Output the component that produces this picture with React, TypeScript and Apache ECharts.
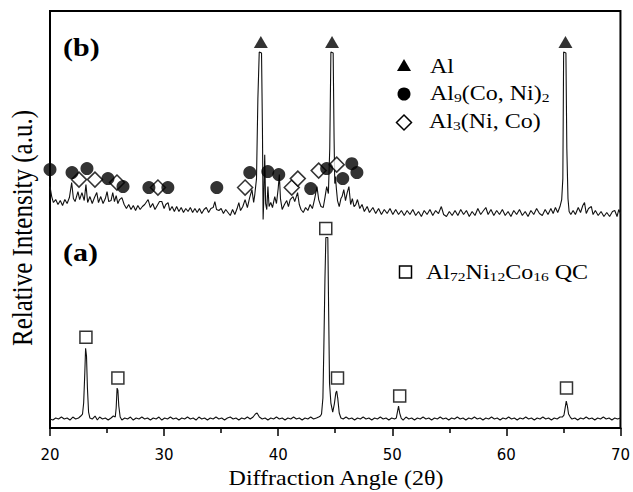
import React, { useEffect, useRef } from "react";
import * as echarts from "echarts";

// X range (2θ, degrees)
const X_MIN = 20;
const X_MAX = 70;
const X_INTERVAL = 10;
const Y_MAX = 418;

// (a) Al72Ni12Co16 QC pattern  [2θ, intensity a.u.]
const traceA: [number, number][] = [
  [20.0, 9], [20.25, 8], [20.5, 10], [20.75, 9], [21.0, 11], [21.25, 9], [21.5, 10], [21.75, 8], [22.0, 11], [22.25, 9],
  [22.5, 10], [22.7, 12], [22.85, 14], [22.95, 25], [23.05, 55], [23.12, 80], [23.2, 72], [23.28, 40], [23.38, 16], [23.5, 10],
  [23.7, 9], [23.95, 12], [24.15, 8], [24.35, 11], [24.6, 9], [24.85, 10], [25.1, 8], [25.35, 10], [25.55, 12], [25.72, 11],
  [25.8, 20], [25.88, 40], [25.95, 38], [26.03, 22], [26.15, 11], [26.3, 8], [26.55, 10], [26.8, 9], [27.05, 11], [27.3, 8],
  [27.55, 10], [27.8, 9], [28.05, 11], [28.3, 9], [28.55, 10], [28.8, 8], [29.05, 10], [29.3, 9], [29.55, 11], [29.8, 8],
  [30.05, 10], [30.3, 9], [30.55, 11], [30.8, 9], [31.05, 10], [31.3, 8], [31.55, 10], [31.8, 9], [32.05, 11], [32.3, 9],
  [32.55, 10], [32.8, 8], [33.05, 11], [33.3, 9], [33.55, 10], [33.8, 8], [34.05, 10], [34.3, 9], [34.55, 11], [34.8, 9],
  [35.05, 10], [35.3, 8], [35.55, 10], [35.8, 11], [36.05, 9], [36.3, 10], [36.55, 8], [36.8, 10], [37.05, 9], [37.3, 11],
  [37.55, 9], [37.8, 11], [38.0, 14], [38.15, 15], [38.35, 11], [38.6, 9], [38.85, 10], [39.1, 8], [39.35, 10], [39.6, 9],
  [39.85, 11], [40.1, 9], [40.35, 10], [40.6, 8], [40.85, 10], [41.1, 9], [41.35, 11], [41.6, 9], [41.85, 10], [42.1, 8],
  [42.35, 10], [42.6, 9], [42.85, 11], [43.1, 9], [43.35, 10], [43.55, 11], [43.7, 12], [43.8, 14], [43.92, 30], [44.0, 79],
  [44.1, 150], [44.18, 191], [44.35, 191], [44.42, 120], [44.5, 45], [44.62, 25], [44.78, 16], [44.92, 24], [45.05, 35], [45.13, 37],
  [45.22, 30], [45.35, 15], [45.5, 10], [45.7, 9], [45.95, 11], [46.2, 9], [46.45, 10], [46.7, 8], [46.95, 10], [47.2, 9],
  [47.45, 11], [47.7, 9], [47.95, 10], [48.2, 8], [48.45, 10], [48.7, 9], [48.95, 11], [49.2, 9], [49.45, 10], [49.7, 8],
  [49.95, 10], [50.2, 9], [50.35, 10], [50.45, 16], [50.55, 22], [50.65, 15], [50.78, 10], [50.95, 8], [51.2, 11], [51.45, 9],
  [51.7, 10], [51.95, 8], [52.2, 10], [52.45, 9], [52.7, 11], [52.95, 9], [53.2, 10], [53.45, 8], [53.7, 10], [53.95, 9],
  [54.2, 11], [54.45, 9], [54.7, 10], [54.95, 8], [55.2, 10], [55.45, 9], [55.7, 11], [55.95, 9], [56.2, 10], [56.45, 8],
  [56.7, 10], [56.95, 9], [57.2, 11], [57.45, 9], [57.7, 10], [57.95, 8], [58.2, 10], [58.45, 9], [58.7, 11], [58.95, 9],
  [59.2, 10], [59.45, 8], [59.7, 10], [59.95, 9], [60.2, 11], [60.45, 9], [60.7, 10], [60.95, 8], [61.2, 10], [61.45, 9],
  [61.7, 11], [61.95, 9], [62.2, 10], [62.45, 8], [62.7, 10], [62.95, 9], [63.2, 11], [63.45, 9], [63.7, 10], [63.95, 8],
  [64.2, 10], [64.45, 9], [64.7, 11], [64.9, 11], [65.05, 13], [65.15, 20], [65.25, 27], [65.35, 22], [65.45, 14], [65.6, 11],
  [65.75, 9], [66.0, 10], [66.25, 8], [66.5, 10], [66.75, 9], [67.0, 11], [67.25, 9], [67.5, 10], [67.75, 8], [68.0, 10],
  [68.25, 9], [68.5, 11], [68.75, 9], [69.0, 10], [69.25, 8], [69.5, 10], [69.75, 9], [70.0, 10],
];

// (b) pattern  [2θ, intensity a.u.]
const traceB: [number, number][] = [
  [20.0, 242], [20.15, 232], [20.3, 226], [20.5, 229], [20.7, 224], [20.9, 228], [21.1, 223], [21.3, 229], [21.5, 225], [21.7, 231],
  [21.9, 246], [22.05, 230], [22.2, 227], [22.45, 237], [22.6, 229], [22.8, 236], [23.0, 228], [23.15, 244], [23.3, 226], [23.5, 232],
  [23.7, 225], [23.9, 231], [24.1, 236], [24.25, 226], [24.45, 232], [24.65, 225], [24.85, 230], [25.0, 237], [25.15, 227], [25.35, 228],
  [25.5, 236], [25.65, 227], [25.8, 233], [25.95, 225], [26.1, 229], [26.3, 231], [26.5, 224], [26.7, 220], [26.9, 224], [27.1, 219],
  [27.3, 223], [27.5, 218], [27.7, 223], [27.9, 219], [28.1, 222], [28.3, 224], [28.6, 229], [28.8, 221], [29.0, 225], [29.2, 219],
  [29.4, 223], [29.6, 227], [29.8, 227], [30.0, 220], [30.15, 224], [30.35, 226], [30.5, 218], [30.7, 222], [30.9, 217], [31.1, 222],
  [31.3, 217], [31.5, 221], [31.7, 216], [31.9, 220], [32.1, 217], [32.3, 221], [32.5, 216], [32.7, 220], [32.9, 216], [33.1, 220],
  [33.3, 215], [33.5, 219], [33.7, 221], [33.9, 216], [34.1, 220], [34.3, 221], [34.45, 227], [34.6, 219], [34.8, 218], [35.0, 220],
  [35.2, 215], [35.4, 219], [35.6, 216], [35.8, 213], [36.0, 219], [36.2, 214], [36.4, 220], [36.55, 226], [36.7, 218], [36.9, 222],
  [37.1, 229], [37.3, 221], [37.5, 231], [37.7, 239], [37.85, 226], [37.95, 234], [38.1, 250], [38.22, 330], [38.34, 377], [38.54, 376],
  [38.62, 300], [38.68, 209], [38.74, 230], [38.82, 274], [38.9, 225], [39.0, 219], [39.1, 242], [39.2, 222], [39.35, 226], [39.5, 221],
  [39.7, 232], [39.85, 225], [40.0, 240], [40.1, 254], [40.2, 230], [40.35, 219], [40.55, 224], [40.75, 228], [40.9, 222], [41.05, 229],
  [41.3, 232], [41.45, 227], [41.7, 236], [41.85, 224], [42.0, 219], [42.2, 216], [42.4, 221], [42.6, 218], [42.8, 224], [43.0, 220],
  [43.2, 230], [43.4, 242], [43.55, 229], [43.75, 222], [43.95, 221], [44.1, 231], [44.25, 242], [44.4, 235], [44.52, 280], [44.62, 377],
  [44.82, 376], [44.9, 290], [44.96, 245], [45.02, 252], [45.1, 240], [45.2, 228], [45.35, 222], [45.5, 230], [45.6, 232], [45.75, 239],
  [45.9, 228], [46.05, 236], [46.2, 242], [46.35, 224], [46.5, 230], [46.65, 222], [46.8, 224], [46.95, 229], [47.15, 220], [47.35, 224],
  [47.55, 217], [47.8, 222], [48.0, 216], [48.3, 221], [48.55, 215], [48.8, 220], [49.05, 214], [49.3, 219], [49.55, 215], [49.8, 220],
  [50.05, 214], [50.3, 219], [50.55, 214], [50.8, 218], [51.05, 213], [51.3, 218], [51.55, 214], [51.8, 219], [52.05, 213], [52.3, 217],
  [52.55, 212], [52.8, 218], [53.05, 214], [53.3, 219], [53.55, 213], [53.8, 218], [54.05, 215], [54.3, 222], [54.5, 214], [54.75, 212],
  [55.0, 217], [55.25, 213], [55.5, 218], [55.75, 213], [56.0, 219], [56.25, 214], [56.5, 218], [56.75, 212], [57.0, 217], [57.25, 213],
  [57.5, 220], [57.75, 214], [58.0, 218], [58.2, 221], [58.4, 214], [58.65, 219], [58.9, 213], [59.15, 218], [59.4, 214], [59.65, 219],
  [59.9, 213], [60.15, 217], [60.4, 212], [60.65, 218], [60.9, 214], [61.15, 219], [61.4, 213], [61.65, 217], [61.9, 212], [62.15, 218],
  [62.4, 214], [62.65, 220], [62.9, 215], [63.15, 213], [63.4, 219], [63.65, 214], [63.9, 220], [64.1, 215], [64.3, 221], [64.5, 216],
  [64.7, 222], [64.85, 229], [64.95, 250], [65.02, 377], [65.22, 376], [65.3, 280], [65.4, 230], [65.5, 217], [65.65, 214], [65.85, 218],
  [66.05, 214], [66.3, 221], [66.5, 216], [66.7, 223], [66.85, 226], [67.0, 215], [67.2, 220], [67.45, 222], [67.6, 214], [67.8, 218],
  [68.05, 213], [68.3, 217], [68.55, 212], [68.8, 216], [69.05, 212], [69.3, 217], [69.5, 218], [69.7, 212], [69.85, 219], [70.0, 215],
];

// Phase marker positions [2θ, intensity]
const alMarks: [number, number][] = [[38.48, 387], [44.72, 387], [65.18, 387]];
const al9Marks: [number, number][] = [
  [20.0, 259], [21.93, 256], [23.24, 260], [25.08, 250], [26.4, 242], [28.67, 241], [30.33, 241], [34.62, 241],
  [37.51, 256], [39.09, 257], [40.05, 254], [42.85, 240], [44.25, 260], [45.66, 250], [46.45, 265], [46.9, 256],
];
const al3Marks: [number, number][] = [
  [22.54, 249], [23.94, 249], [25.87, 246], [29.46, 241], [37.1, 241], [41.19, 241], [41.72, 250], [43.55, 258], [45.13, 264],
];
const qcMarks: [number, number][] = [[23.15, 91], [25.95, 50], [44.17, 200], [45.2, 50], [50.65, 32], [65.27, 40]];

const SERIF = '"Liberation Serif", "Times New Roman", serif';

export default function App() {
  const ref = useRef<HTMLDivElement>(null);
  useEffect(() => {
    if (!ref.current) return;
    const chart = echarts.init(ref.current, undefined, { renderer: "svg" });
    const sub = {
      n: { fontFamily: SERIF, fontSize: 20, lineHeight: 22, color: "#000" },
      s: { fontFamily: SERIF, fontSize: 13, lineHeight: 13, verticalAlign: "bottom", color: "#000" },
    };
    chart.setOption({
      animation: false,
      backgroundColor: "#fff",
      grid: { left: 50, right: 12, top: 11, bottom: 64, show: true, borderColor: "#000", borderWidth: 2 },
      xAxis: {
        type: "value",
        min: X_MIN,
        max: X_MAX,
        interval: X_INTERVAL,
        axisLine: { show: true, lineStyle: { color: "#000", width: 2 } },
        axisTick: { show: true, inside: false, length: 8, lineStyle: { color: "#000", width: 1.5 } },
        minorTick: { show: true, splitNumber: 2, length: 5, lineStyle: { color: "#000", width: 1.5 } },
        axisLabel: { color: "#000", fontFamily: '"DejaVu Sans", sans-serif', fontSize: 15, margin: 19 },
        splitLine: { show: false },
      },
      yAxis: {
        type: "value",
        min: 0,
        max: Y_MAX,
        axisLine: { show: true, lineStyle: { color: "#000", width: 2 } },
        axisTick: { show: false },
        axisLabel: { show: false },
        splitLine: { show: false },
      },
      series: [
        { type: "line", data: traceA, showSymbol: false, lineStyle: { color: "#111", width: 1.1 }, z: 2 },
        { type: "line", data: traceB, showSymbol: false, lineStyle: { color: "#111", width: 1.1 }, z: 2 },
        {
          type: "scatter", data: al3Marks, symbol: "diamond", symbolSize: 15, clip: false, z: 3,
          itemStyle: { color: "#fff", borderColor: "#000", borderWidth: 1.5 },
        },
        { type: "scatter", data: al9Marks, symbol: "circle", symbolSize: 13, clip: false, z: 4, itemStyle: { color: "#000" } },
        { type: "scatter", data: alMarks, symbol: "triangle", symbolSize: [14, 12], clip: false, z: 4, itemStyle: { color: "#000" } },
        {
          type: "scatter", data: qcMarks, symbol: "rect", symbolSize: 12, clip: false, z: 4,
          itemStyle: { color: "#fff", borderColor: "#000", borderWidth: 1.5 },
        },
      ],
      graphic: [
        { type: "text", x: 63, y: 47, scaleX: 1.2, style: { text: "(b)", font: `bold 25px ${SERIF}`, fill: "#000", align: "left", verticalAlign: "middle" } },
        { type: "text", x: 63, y: 252, scaleX: 1.2, style: { text: "(a)", font: `bold 25px ${SERIF}`, fill: "#000", align: "left", verticalAlign: "middle" } },
        { type: "polygon", shape: { points: [[404, 59], [397, 71], [411, 71]] }, style: { fill: "#000" } },
        { type: "circle", shape: { cx: 404, cy: 94, r: 6.5 }, style: { fill: "#000" } },
        { type: "polygon", shape: { points: [[404, 115], [411.5, 122.5], [404, 130], [396.5, 122.5]] }, style: { fill: "#fff", stroke: "#000", lineWidth: 1.5 } },
        { type: "rect", shape: { x: 399.5, y: 266, width: 12, height: 12 }, style: { fill: "#fff", stroke: "#000", lineWidth: 1.5 } },
        { type: "text", x: 430, y: 66, scaleX: 1.2, style: { text: "{n|Al}", rich: sub, align: "left", verticalAlign: "middle" } },
        { type: "text", x: 430, y: 93, scaleX: 1.2, style: { text: "{n|Al}{s|9}{n|(Co, Ni)}{s|2}", rich: sub, align: "left", verticalAlign: "middle" } },
        { type: "text", x: 429, y: 121, scaleX: 1.2, style: { text: "{n|Al}{s|3}{n|(Ni, Co)}", rich: sub, align: "left", verticalAlign: "middle" } },
        { type: "text", x: 426, y: 272, scaleX: 1.2, style: { text: "{n|Al}{s|72}{n|Ni}{s|12}{n|Co}{s|16}{n| QC}", rich: sub, align: "left", verticalAlign: "middle" } },
        { type: "text", x: 336, y: 478, scaleX: 1.2, style: { text: "Diffraction Angle (2θ)", font: `20px ${SERIF}`, fill: "#000", align: "center", verticalAlign: "middle" } },
        { type: "text", x: 22, y: 228, rotation: Math.PI / 2, scaleY: 1.2, style: { text: "Relative Intensity (a.u.)", font: `25px ${SERIF}`, fill: "#000", align: "center", verticalAlign: "middle" } },
      ],
    });
    return () => chart.dispose();
  }, []);
  return <div ref={ref} style={{ position: "absolute", left: 0, top: 0, width: 633, height: 492 }} />;
}
